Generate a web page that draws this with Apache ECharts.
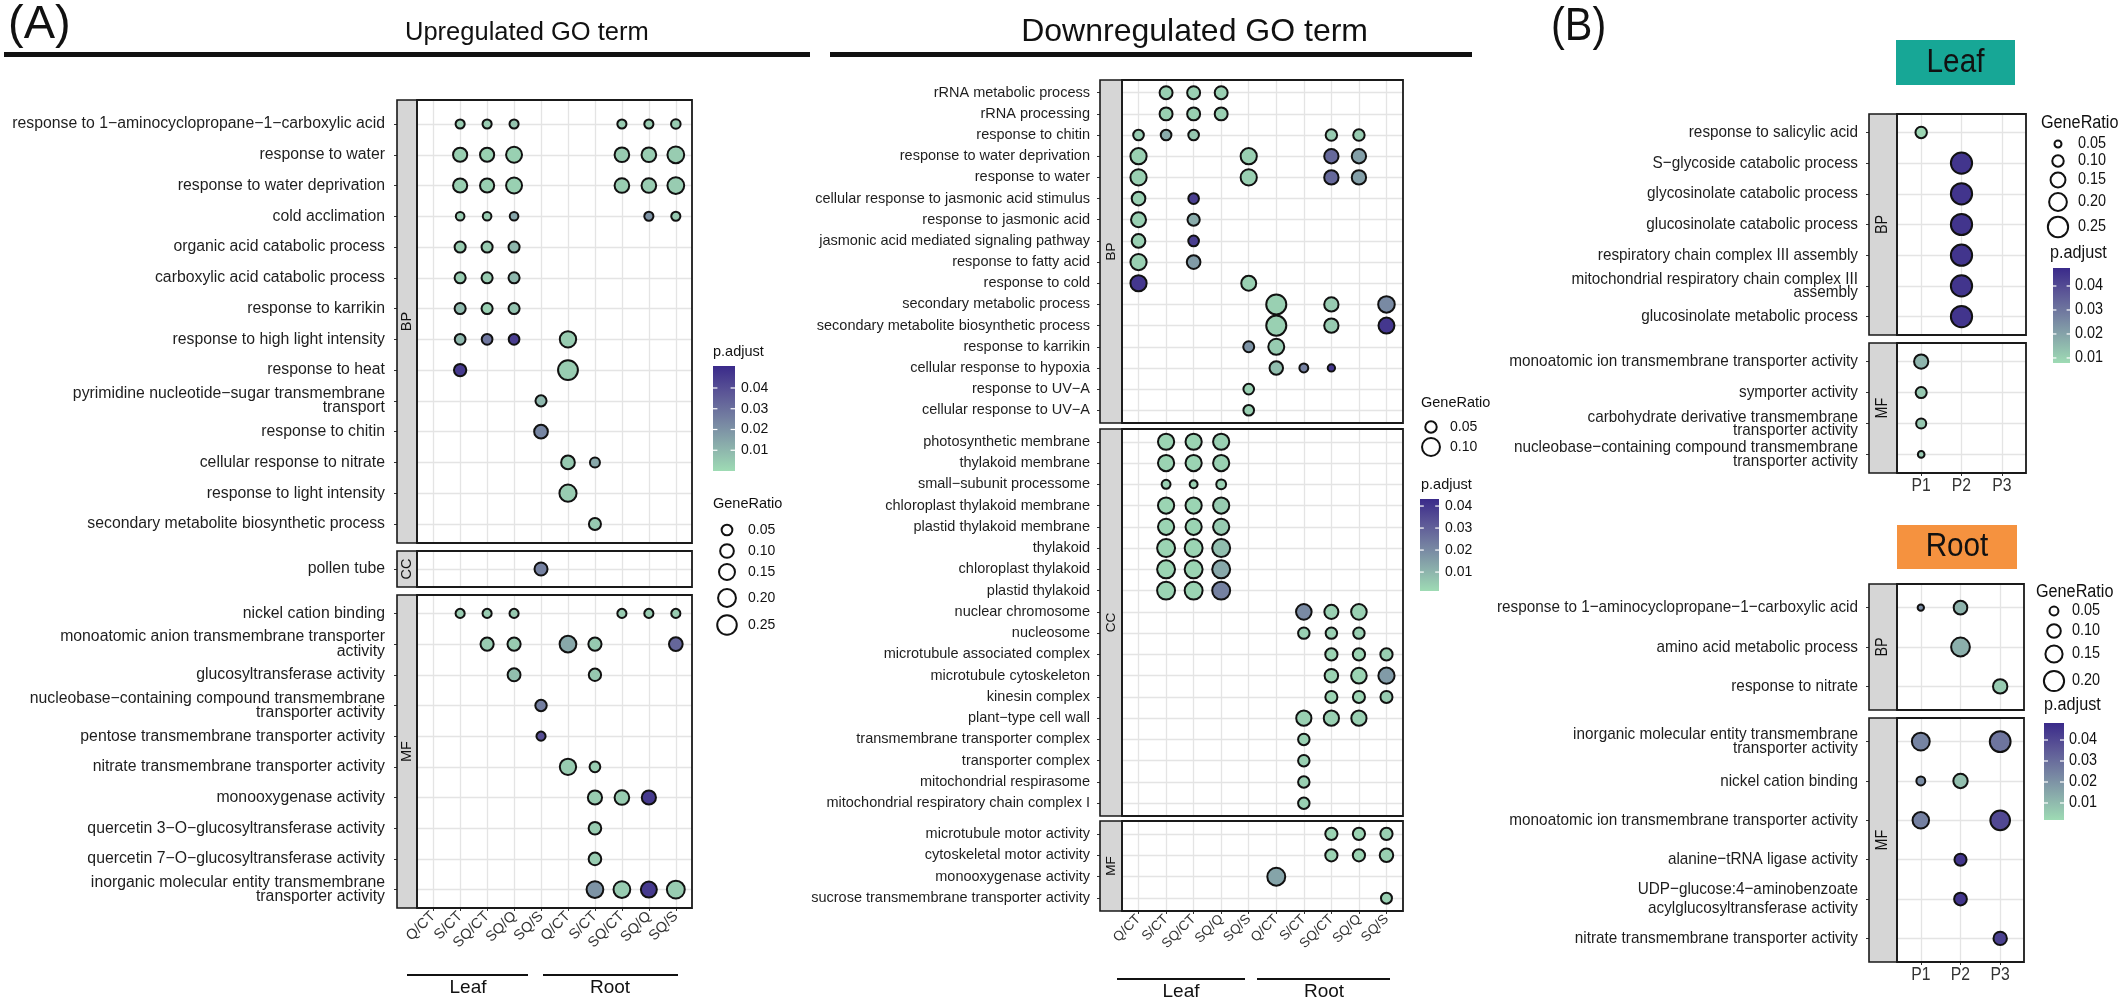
<!DOCTYPE html>
<html><head><meta charset="utf-8">
<script src="https://cdn.jsdelivr.net/npm/echarts@6/dist/echarts.min.js"></script>
<style>html,body{margin:0;padding:0;background:#fff}#c{width:2128px;height:1005px}</style>
</head><body><div id="c"></div>
<script>
// ---------------- DATA ----------------
const COLS_A = ['Leaf|Q/CT','Leaf|S/CT','Leaf|SQ/CT','Leaf|SQ/Q','Leaf|SQ/S','Root|Q/CT','Root|S/CT','Root|SQ/CT','Root|SQ/Q','Root|SQ/S'];
const COLS_B = ['P1','P2','P3'];

const UP_BP_TERMS = ['response to 1−aminocyclopropane−1−carboxylic acid','response to water','response to water deprivation','cold acclimation','organic acid catabolic process','carboxylic acid catabolic process','response to karrikin','response to high light intensity','response to heat','pyrimidine nucleotide−sugar transmembrane\ntransport','response to chitin','cellular response to nitrate','response to light intensity','secondary metabolite biosynthetic process'];
// [row, column, GeneRatio, p.adjust]
const UP_BP_POINTS = [
 [0,1,0.03,0.004],[0,2,0.03,0.004],[0,3,0.03,0.006],[0,7,0.03,0.004],[0,8,0.03,0.004],[0,9,0.035,0.004],
 [1,1,0.11,0.003],[1,2,0.11,0.003],[1,3,0.15,0.003],[1,7,0.12,0.004],[1,8,0.12,0.004],[1,9,0.17,0.004],
 [2,1,0.11,0.003],[2,2,0.11,0.003],[2,3,0.15,0.003],[2,7,0.12,0.004],[2,8,0.12,0.004],[2,9,0.17,0.004],
 [3,1,0.025,0.004],[3,2,0.025,0.004],[3,3,0.025,0.015],[3,8,0.03,0.02],[3,9,0.03,0.005],
 [4,1,0.055,0.004],[4,2,0.055,0.004],[4,3,0.055,0.01],
 [5,1,0.055,0.004],[5,2,0.055,0.004],[5,3,0.055,0.01],
 [6,1,0.055,0.009],[6,2,0.055,0.003],[6,3,0.055,0.007],
 [7,1,0.05,0.01],[7,2,0.05,0.028],[7,3,0.05,0.045],[7,5,0.16,0.004],
 [8,1,0.075,0.046],[8,5,0.26,0.004],
 [9,4,0.055,0.01],
 [10,4,0.1,0.024],
 [11,5,0.1,0.005],[11,6,0.04,0.014],
 [12,5,0.18,0.004],
 [13,6,0.07,0.005]
];
const UP_CC_TERMS = ['pollen tube'];
const UP_CC_POINTS = [[0,4,0.087,0.025]];
const UP_MF_TERMS = ['nickel cation binding','monoatomic anion transmembrane transporter\nactivity','glucosyltransferase activity','nucleobase−containing compound transmembrane\ntransporter activity','pentose transmembrane transporter activity','nitrate transmembrane transporter activity','monooxygenase activity','quercetin 3−O−glucosyltransferase activity','quercetin 7−O−glucosyltransferase activity','inorganic molecular entity transmembrane\ntransporter activity'];
const UP_MF_POINTS = [
 [0,1,0.03,0.004],[0,2,0.03,0.004],[0,3,0.03,0.005],[0,7,0.03,0.004],[0,8,0.03,0.004],[0,9,0.03,0.004],
 [1,2,0.09,0.004],[1,3,0.09,0.004],[1,5,0.17,0.014],[1,6,0.09,0.005],[1,9,0.1,0.033],
 [2,3,0.085,0.008],[2,6,0.075,0.005],
 [3,4,0.06,0.026],
 [4,4,0.03,0.04],
 [5,5,0.16,0.004],[5,6,0.05,0.004],
 [6,6,0.11,0.004],[6,7,0.12,0.004],[6,8,0.11,0.046],
 [7,6,0.08,0.004],
 [8,6,0.08,0.004],
 [9,6,0.17,0.02],[9,7,0.17,0.004],[9,8,0.15,0.046],[9,9,0.2,0.004]
];

const DOWN_BP_TERMS = ['rRNA metabolic process','rRNA processing','response to chitin','response to water deprivation','response to water','cellular response to jasmonic acid stimulus','response to jasmonic acid','jasmonic acid mediated signaling pathway','response to fatty acid','response to cold','secondary metabolic process','secondary metabolite biosynthetic process','response to karrikin','cellular response to hypoxia','response to UV−A','cellular response to UV−A'];
const DOWN_BP_POINTS = [
 [0,1,0.06,0.004],[0,2,0.06,0.004],[0,3,0.06,0.004],
 [1,1,0.06,0.004],[1,2,0.06,0.004],[1,3,0.06,0.004],
 [2,0,0.045,0.005],[2,1,0.045,0.012],[2,2,0.045,0.006],[2,7,0.05,0.005],[2,8,0.05,0.005],
 [3,0,0.085,0.004],[3,4,0.085,0.004],[3,7,0.07,0.028],[3,8,0.07,0.015],
 [4,0,0.085,0.004],[4,4,0.085,0.004],[4,7,0.07,0.028],[4,8,0.07,0.015],
 [5,0,0.065,0.004],[5,2,0.045,0.038],
 [6,0,0.075,0.004],[6,2,0.055,0.012],
 [7,0,0.065,0.004],[7,2,0.045,0.038],
 [8,0,0.085,0.004],[8,2,0.065,0.016],
 [9,0,0.085,0.04],[9,4,0.075,0.004],
 [10,5,0.12,0.004],[10,7,0.07,0.005],[10,9,0.088,0.02],
 [11,5,0.12,0.004],[11,7,0.07,0.005],[11,9,0.083,0.04],
 [12,4,0.047,0.018],[12,5,0.083,0.005],
 [13,5,0.064,0.008],[13,6,0.035,0.022],[13,7,0.027,0.04],
 [14,4,0.045,0.004],
 [15,4,0.045,0.004]
];
const DOWN_CC_TERMS = ['photosynthetic membrane','thylakoid membrane','small−subunit processome','chloroplast thylakoid membrane','plastid thylakoid membrane','thylakoid','chloroplast thylakoid','plastid thylakoid','nuclear chromosome','nucleosome','microtubule associated complex','microtubule cytoskeleton','kinesin complex','plant−type cell wall','transmembrane transporter complex','transporter complex','mitochondrial respirasome','mitochondrial respiratory chain complex I'];
const DOWN_CC_POINTS = [
 [0,1,0.085,0.003],[0,2,0.085,0.003],[0,3,0.085,0.004],
 [1,1,0.085,0.003],[1,2,0.085,0.003],[1,3,0.085,0.004],
 [2,1,0.035,0.004],[2,2,0.03,0.004],[2,3,0.04,0.004],
 [3,1,0.085,0.003],[3,2,0.085,0.003],[3,3,0.085,0.005],
 [4,1,0.085,0.003],[4,2,0.085,0.003],[4,3,0.085,0.005],
 [5,1,0.1,0.003],[5,2,0.1,0.003],[5,3,0.1,0.008],
 [6,1,0.1,0.003],[6,2,0.1,0.003],[6,3,0.1,0.013],
 [7,1,0.1,0.003],[7,2,0.1,0.003],[7,3,0.1,0.022],
 [8,6,0.08,0.02],[8,7,0.068,0.004],[8,8,0.08,0.004],
 [9,6,0.05,0.004],[9,7,0.05,0.004],[9,8,0.05,0.004],
 [10,7,0.055,0.003],[10,8,0.055,0.003],[10,9,0.055,0.004],
 [11,7,0.064,0.003],[11,8,0.08,0.003],[11,9,0.085,0.016],
 [12,7,0.054,0.003],[12,8,0.054,0.003],[12,9,0.054,0.005],
 [13,6,0.077,0.004],[13,7,0.077,0.004],[13,8,0.077,0.004],
 [14,6,0.05,0.004],[15,6,0.05,0.004],[16,6,0.05,0.004],[17,6,0.05,0.004]
];
const DOWN_MF_TERMS = ['microtubule motor activity','cytoskeletal motor activity','monooxygenase activity','sucrose transmembrane transporter activity'];
const DOWN_MF_POINTS = [
 [0,7,0.055,0.003],[0,8,0.055,0.003],[0,9,0.055,0.004],
 [1,7,0.055,0.003],[1,8,0.055,0.003],[1,9,0.064,0.004],
 [2,5,0.1,0.014],
 [3,9,0.047,0.004]
];

const LEAF_BP_TERMS = ['response to salicylic acid','S−glycoside catabolic process','glycosinolate catabolic process','glucosinolate catabolic process','respiratory chain complex III assembly','mitochondrial respiratory chain complex III\nassembly','glucosinolate metabolic process'];
const LEAF_BP_POINTS = [[0,0,0.1,0.009],[1,1,0.27,0.045],[2,1,0.27,0.045],[3,1,0.27,0.045],[4,1,0.27,0.045],[5,1,0.27,0.045],[6,1,0.27,0.045]];
const LEAF_MF_TERMS = ['monoatomic ion transmembrane transporter activity','symporter activity','carbohydrate derivative transmembrane\ntransporter activity','nucleobase−containing compound transmembrane\ntransporter activity'];
const LEAF_MF_POINTS = [[0,0,0.14,0.016],[1,0,0.095,0.012],[2,0,0.083,0.012],[3,0,0.047,0.012]];

const ROOT_BP_TERMS = ['response to 1−aminocyclopropane−1−carboxylic acid','amino acid metabolic process','response to nitrate'];
const ROOT_BP_POINTS = [[0,0,0.03,0.022],[0,1,0.1,0.012],[1,1,0.175,0.013],[2,2,0.11,0.006]];
const ROOT_MF_TERMS = ['inorganic molecular entity transmembrane\ntransporter activity','nickel cation binding','monoatomic ion transmembrane transporter activity','alanine−tRNA ligase activity','UDP−glucose:4−aminobenzoate\nacylglucosyltransferase activity','nitrate transmembrane transporter activity'];
const ROOT_MF_POINTS = [[0,0,0.16,0.024],[0,2,0.21,0.028],[1,0,0.05,0.022],[1,1,0.11,0.009],[2,0,0.14,0.025],[2,2,0.19,0.04],[3,1,0.082,0.045],[4,1,0.09,0.045],[5,2,0.098,0.042]];

// colour-scale limits of each sub-figure and legend tick values
const PADJ_LIMITS = {up:[0,0.0506], down:[0.0014,0.0432], leaf:[0.0079,0.0475], root:[0.0019,0.0481]};
const PADJ_TICKS = [0.01,0.02,0.03,0.04];
const RATIO_TICKS = {up:[0.05,0.10,0.15,0.20,0.25], down:[0.05,0.10], leaf:[0.05,0.10,0.15,0.20,0.25], root:[0.05,0.10,0.15,0.20]};

// ---------------- STYLE / LAYOUT ----------------
const A_FONT = "'Liberation Sans', Arial, Helvetica, sans-serif";
const NARROW = 0.9;            // horizontal squeeze used for the narrow font of panel (B)
// low -> high p.adjust gradient (interpolated in Lab, like ggplot)
const GRAD = ['#9edbb4', '#8aadab', '#7480a1', '#5b5596', '#3a2a8a'];
const BW = 2;
const SIZE = {
  up: v => 5.6 + 31.9 * Math.sqrt(v),
  down: v => -2.2 + 70 * Math.sqrt(v),
  leaf: v => -1.8 + 48.2 * Math.sqrt(v),
  root: v => -0.45 + 50.7 * Math.sqrt(v)
};
const STYLE = {
  up:   {yFont:15.8, yLH:14.5, xFont:14.5, margin:12, stripW:20, stripFont:14.5, rotate:45, xMargin:6, narrow:false},
  down: {yFont:14.5, yLH:14, xFont:13.5, margin:10, stripW:22, stripFont:13.5, rotate:45, xMargin:6, narrow:false},
  leaf: {yFont:17, yLH:13.3, xFont:17.5, margin:11, stripW:28, stripFont:16, rotate:0, xMargin:5, narrow:true},
  root: {yFont:17, yLH:13.8, xFont:17.5, margin:11, stripW:28, stripFont:16, rotate:0, xMargin:5, narrow:true}
};
// box: [left, top, width, height]; pad: discrete-scale expansion [top, bottom] in row units
const PANELS = [
 {terms:UP_BP_TERMS, points:UP_BP_POINTS, cols:COLS_A, scale:'up', box:[417,100,275,443], pad:[0.78,0.62], strip:'BP', xlab:false},
 {terms:UP_CC_TERMS, points:UP_CC_POINTS, cols:COLS_A, scale:'up', box:[417,551,275,36], pad:[0.6,0.6], strip:'CC', xlab:false},
 {terms:UP_MF_TERMS, points:UP_MF_POINTS, cols:COLS_A, scale:'up', box:[417,595,275,313], pad:[0.6,0.6], strip:'MF', xlab:true},
 {terms:DOWN_BP_TERMS, points:DOWN_BP_POINTS, cols:COLS_A, scale:'down', box:[1122,80,281,343], pad:[0.6,0.6], strip:'BP', xlab:false},
 {terms:DOWN_CC_TERMS, points:DOWN_CC_POINTS, cols:COLS_A, scale:'down', box:[1122,429,281,387], pad:[0.6,0.6], strip:'CC', xlab:false},
 {terms:DOWN_MF_TERMS, points:DOWN_MF_POINTS, cols:COLS_A, scale:'down', box:[1122,821,281,90], pad:[0.6,0.6], strip:'MF', xlab:true},
 {terms:LEAF_BP_TERMS, points:LEAF_BP_POINTS, cols:COLS_B, scale:'leaf', box:[1897,114,129,221], pad:[0.6,0.6], strip:'BP', xlab:false},
 {terms:LEAF_MF_TERMS, points:LEAF_MF_POINTS, cols:COLS_B, scale:'leaf', box:[1897,343,129,130], pad:[0.6,0.6], strip:'MF', xlab:true},
 {terms:ROOT_BP_TERMS, points:ROOT_BP_POINTS, cols:COLS_B, scale:'root', box:[1897,584,127,126], pad:[0.6,0.6], strip:'BP', xlab:false},
 {terms:ROOT_MF_TERMS, points:ROOT_MF_POINTS, cols:COLS_B, scale:'root', box:[1897,718,127,244], pad:[0.6,0.6], strip:'MF', xlab:true}
];

function txt(x, y, text, size, align, narrow, extra) {
  const el = {type:'text', z:60, x:x, y:y,
    style:{text:text, font:size + 'px ' + A_FONT, fill:'#111', align:align || 'left', verticalAlign:'middle', textAlign:align || 'left', textVerticalAlign:'middle'}};
  if (narrow) el.scaleX = NARROW;
  return Object.assign(el, extra || {});
}
const range = n => Array.from({length:n}, (_, i) => i);

const grids = [], xAxes = [], yAxes = [], series = [], graphics = [];
const GRID_COLOR = '#e4e4e4';
PANELS.forEach((p, i) => {
  const st = STYLE[p.scale];
  const [l, t, w, h] = p.box;
  const nx = p.cols.length, ny = p.terms.length;
  grids.push({left:l, top:t, width:w, height:h, containLabel:false, outerBoundsMode:'none'});
  xAxes.push({
    gridIndex:i, type:'value', position:'bottom', min:-0.6, max:nx - 1 + 0.6,
    axisLine:{show:false, onZero:false},
    axisTick:{show:p.xlab, length:3, customValues:range(nx), lineStyle:{color:'#333', width:1}},
    axisLabel:{show:p.xlab && !st.narrow, customValues:range(nx), rotate:st.rotate, fontSize:st.xFont, fontFamily:A_FONT, color:'#333', margin:st.xMargin,
      formatter: v => { const c = p.cols[Math.round(v)] || ''; return c.indexOf('|') >= 0 ? c.split('|')[1] : c; }},
    splitLine:{show:true, lineStyle:{color:GRID_COLOR, width:1.3}}
  });
  yAxes.push({
    gridIndex:i, type:'value', position:'left', inverse:true, min:-p.pad[0], max:ny - 1 + p.pad[1], offset:st.stripW,
    axisLine:{show:false, onZero:false},
    axisTick:{show:true, length:3, customValues:range(ny), lineStyle:{color:'#333', width:1}},
    axisLabel:{show:!st.narrow, customValues:range(ny), fontSize:st.yFont, fontFamily:A_FONT, color:'#1e1e1e', margin:st.margin, lineHeight:st.yLH, align:'right',
      formatter: v => p.terms[Math.round(v)] || ''},
    splitLine:{show:true, lineStyle:{color:GRID_COLOR, width:1.3}}
  });
  series.push({
    type:'scatter', xAxisIndex:i, yAxisIndex:i, silent:true, z:5, animation:false,
    data:p.points.map(q => [q[1], q[0], q[2], q[3]]),
    symbolSize: v => Math.max(2, SIZE[p.scale](v[2]) - BW),
    itemStyle:{borderColor:'#111', borderWidth:BW, opacity:1},
    emphasis:{disabled:true}
  });
  // strip
  const sx = l - st.stripW;
  graphics.push({type:'rect', z:50, shape:{x:sx, y:t, width:st.stripW, height:h}, style:{fill:'#d6d6d6', stroke:'#1a1a1a', lineWidth:1.6}});
  graphics.push(txt(sx + st.stripW/2, t + h/2, p.strip, st.stripFont, 'center', st.narrow, {rotation:Math.PI/2, z:51}));
  // panel border
  graphics.push({type:'rect', z:50, shape:{x:l, y:t, width:w, height:h}, style:{fill:'none', stroke:'#1a1a1a', lineWidth:1.8}});
});

const idx = s => PANELS.map((p, i) => p.scale === s ? i : -1).filter(i => i >= 0);
const visualMaps = ['up','down','leaf','root'].map(s => ({
  type:'continuous', show:false, dimension:3, seriesIndex:idx(s),
  min:PADJ_LIMITS[s][0], max:PADJ_LIMITS[s][1], inRange:{color:GRAD}
}));

function colorbar(s, x, top, w, h, labelX, titleX, titleY, tSize, lSize, narrow) {
  const [vmin, vmax] = PADJ_LIMITS[s];
  graphics.push(txt(titleX, titleY, 'p.adjust', tSize, 'left', narrow));
  const stops = GRAD.map((c, k) => ({offset:1 - k / (GRAD.length - 1), color:c}));
  graphics.push({type:'rect', z:60, shape:{x:x, y:top, width:w, height:h},
    style:{fill:new echarts.graphic.LinearGradient(0, 0, 0, 1, stops.reverse())}});
  PADJ_TICKS.forEach(v => {
    const y = top + h * (1 - (v - vmin) / (vmax - vmin));
    graphics.push({type:'line', z:61, shape:{x1:x, y1:y, x2:x + w/5, y2:y}, style:{stroke:'#fff', lineWidth:1.2}});
    graphics.push({type:'line', z:61, shape:{x1:x + w*4/5, y1:y, x2:x + w, y2:y}, style:{stroke:'#fff', lineWidth:1.2}});
    graphics.push(txt(labelX, y, v.toFixed(2), lSize, 'left', narrow));
  });
}
function sizeLegend(s, cx, ys, labelX, titleX, titleY, tSize, lSize, narrow) {
  graphics.push(txt(titleX, titleY, 'GeneRatio', tSize, 'left', narrow));
  RATIO_TICKS[s].forEach((v, k) => {
    const r = (SIZE[s](v) - BW) / 2;
    graphics.push({type:'circle', z:60, shape:{cx:cx, cy:ys[k], r:r}, style:{fill:'#fff', stroke:'#111', lineWidth:BW}});
    graphics.push(txt(labelX, ys[k], v.toFixed(2), lSize, 'left', narrow));
  });
}
colorbar('up', 713, 366, 22, 105, 741, 713, 352, 14.5, 14, false);
sizeLegend('up', 727, [530,551,572,598,625], 748, 713, 504, 14.5, 14, false);
sizeLegend('down', 1431, [427,447], 1450, 1421, 403, 14.5, 14, false);
colorbar('down', 1420, 499, 19, 92, 1445, 1421, 485, 14.5, 14, false);
sizeLegend('leaf', 2058, [144,161,180,202,227], 2078, 2041, 123, 18, 16, true);
colorbar('leaf', 2053, 268, 17, 95, 2075, 2050, 253, 18, 16, true);
sizeLegend('root', 2054, [611,631,654,681], 2072, 2036, 592, 18, 16, true);
colorbar('root', 2044, 723, 20, 97, 2069, 2044, 705, 18, 16, true);

// headings
graphics.push(txt(8, 25, '(A)', 47, 'left'));
graphics.push(txt(405, 33, 'Upregulated GO term', 25.5, 'left'));
graphics.push({type:'rect', z:60, shape:{x:4, y:52, width:806, height:5}, style:{fill:'#111'}});
graphics.push(txt(1368, 32, 'Downregulated GO term', 32, 'right'));
graphics.push({type:'rect', z:60, shape:{x:830, y:52, width:642, height:5}, style:{fill:'#111'}});
graphics.push(txt(1551, 27, '(B)', 46, 'left', true));
graphics.push({type:'rect', z:60, shape:{x:1896, y:40, width:119, height:45}, style:{fill:'#17a796'}});
graphics.push(txt(1955.5, 62.5, 'Leaf', 33, 'center', true));
graphics.push({type:'rect', z:60, shape:{x:1897, y:525, width:120, height:44}, style:{fill:'#f5923f'}});
graphics.push(txt(1957, 547, 'Root', 33, 'center', true));
// tissue group brackets under the x axes
[[407,528,975,468,'Leaf'],[543,678,975,610,'Root'],[1117,1245,979,1181,'Leaf'],[1257,1390,979,1324,'Root']].forEach(g => {
  graphics.push({type:'line', z:60, shape:{x1:g[0], y1:g[2], x2:g[1], y2:g[2]}, style:{stroke:'#111', lineWidth:2}});
  graphics.push(txt(g[3], g[2] + 13, g[4], 19, 'center'));
});

const chart = echarts.init(document.getElementById('c'), null, {renderer:'canvas', width:2128, height:1005});
chart.setOption({
  backgroundColor:'#ffffff',
  animation:false,
  grid:grids, xAxis:xAxes, yAxis:yAxes, series:series,
  visualMap:visualMaps,
  graphic:{elements:graphics}
});

// narrow-font axis labels of panel (B), placed through the axes' own scales
const extra = [];
PANELS.forEach((p, i) => {
  const st = STYLE[p.scale];
  if (!st.narrow) return;
  const [l, t, w, h] = p.box;
  const lx = l - st.stripW - st.margin;
  p.terms.forEach((term, k) => {
    const y = chart.convertToPixel({yAxisIndex:i}, k);
    const lines = term.split('\n');
    const lh = term.indexOf('UDP') === 0 ? 19.5 : st.yLH;
    lines.forEach((ln, j) => {
      extra.push(txt(lx, y + (j - (lines.length - 1) / 2) * lh, ln, st.yFont, 'right', true, {style:{
        text:ln, font:st.yFont + 'px ' + A_FONT, fill:'#1e1e1e', align:'right', verticalAlign:'middle', textAlign:'right', textVerticalAlign:'middle'}}));
    });
  });
  if (p.xlab) {
    p.cols.forEach((c, k) => {
      const x = chart.convertToPixel({xAxisIndex:i}, k);
      extra.push(txt(x, t + h + 13, c, st.xFont, 'center', true, {style:{
        text:c, font:st.xFont + 'px ' + A_FONT, fill:'#333', align:'center', verticalAlign:'middle', textAlign:'center', textVerticalAlign:'middle'}}));
    });
  }
});
chart.setOption({graphic:{elements:graphics.concat(extra)}});
</script></body></html>
